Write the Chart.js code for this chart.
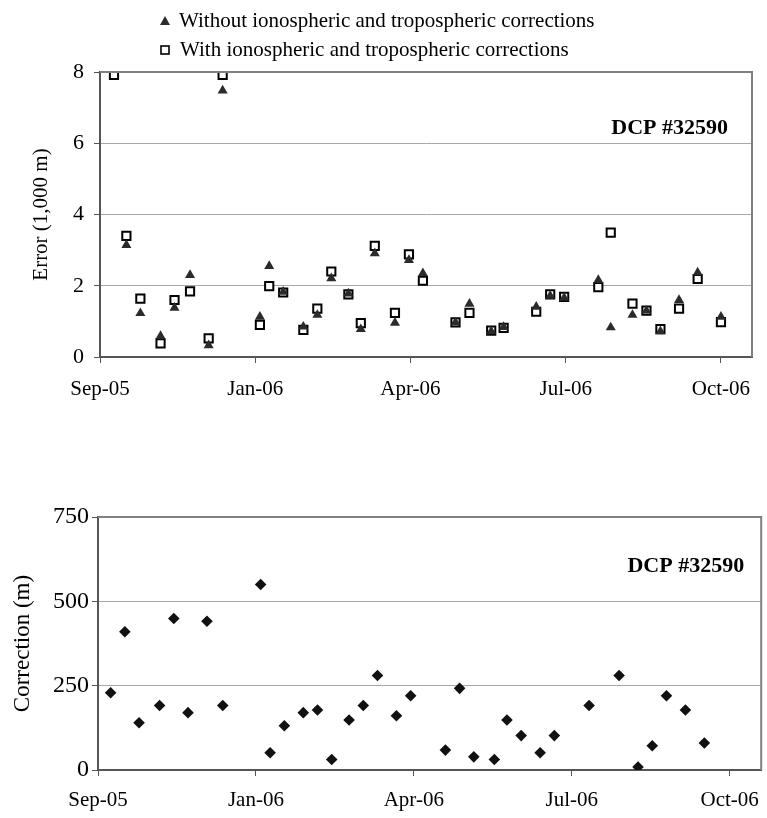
<!DOCTYPE html>
<html>
<head>
<meta charset="utf-8">
<script src="https://cdn.jsdelivr.net/npm/chart.js@4/dist/chart.umd.min.js"></script>
<style>
  html, body { margin: 0; padding: 0; background: #fff; }
  body { width: 767px; height: 818px; position: relative; overflow: hidden; }
  .box { position: absolute; left: 0; width: 767px; }
  #topBox { top: 0; height: 410px; }
  #botBox { top: 460px; height: 358px; }
</style>
</head>
<body>
<div class="box" id="topBox"><canvas id="chart-error"></canvas></div>
<div class="box" id="botBox"><canvas id="chart-correction"></canvas></div>
<script>
// x values are days after the first axis tick (Sep-05); ticks are 100 days apart
const monthTicks = ["Sep-05", "Jan-06", "Apr-06", "Jul-06", "Oct-06"];
const tickDays = [0, 100, 200, 300, 400];

// Top panel: position error in 1,000 m
const errorDays = [9, 17, 26, 39, 48, 58, 70, 79, 103, 109, 118, 131, 140, 149, 160, 168, 177, 190,
                   199, 208, 229, 238, 252, 260, 281, 290, 299, 321, 329, 343, 352, 361, 373, 385, 400];
const withoutCorr = [null, 3.14, 1.23, 0.59, 1.38, 2.30, 0.33, 7.48, 1.13, 2.55, 1.83, 0.85, 1.18, 2.21,
                     1.78, 0.78, 2.91, 0.96, 2.72, 2.35, 0.97, 1.49, 0.72, 0.84, 1.41, 1.72, 1.66, 2.16,
                     0.83, 1.18, 1.30, 0.72, 1.60, 2.37, 1.13];
const withCorr = [7.92, 3.40, 1.64, 0.38, 1.60, 1.84, 0.52, 7.92, 0.90, 1.99, 1.81, 0.76, 1.36, 2.40,
                  1.76, 0.95, 3.12, 1.24, 2.88, 2.14, 0.97, 1.24, 0.74, 0.82, 1.27, 1.76, 1.69, 1.96,
                  3.49, 1.50, 1.30, 0.78, 1.36, 2.19, 0.98];

// Bottom panel: correction size in m
const corrDays = [8, 17, 26, 39, 48, 57, 69, 79, 103, 109, 118, 130, 139, 148, 159, 168, 177, 189,
                  198, 220, 229, 238, 251, 259, 268, 280, 289, 311, 330, 342, 351, 360, 372, 384];
const correction = [229, 410, 140, 191, 449, 170, 441, 191, 550, 51, 131, 170, 178, 31, 148, 191, 280,
                    161, 220, 59, 242, 39, 31, 148, 102, 51, 102, 191, 280, 9, 72, 220, 178, 80];

const SERIF = '"Liberation Serif", "Times New Roman", serif';
const AXIS = "#555555";
const FRAME = "#808080";
const GRID = "#a8a8a8";
const MARK = "#2b2b2b";

Chart.defaults.font.family = SERIF;
Chart.defaults.color = "#000";

const pts = (xs, ys) => xs.map((x, i) => ({ x, y: ys[i] }));

// right-hand and top frame lines + the "DCP" label inside the plot
const framePlugin = {
  id: "frame",
  afterDraw(chart, args, opts) {
    const { ctx, chartArea: a } = chart;
    ctx.save();
    ctx.strokeStyle = FRAME;
    ctx.lineWidth = 2;
    ctx.beginPath();
    ctx.moveTo(a.left, a.top);
    ctx.lineTo(a.right, a.top);
    ctx.lineTo(a.right, a.bottom);
    ctx.stroke();
    ctx.fillStyle = "#000";
    ctx.font = `bold 22px ${SERIF}`;
    ctx.textAlign = "right";
    ctx.textBaseline = "middle";
    ctx.fillText(opts.label, a.right - opts.dx, a.top + opts.dy);
    ctx.restore();
  },
};

// two-row legend above the top panel
const legendPlugin = {
  id: "twoRowLegend",
  afterDraw(chart) {
    const { ctx } = chart;
    ctx.save();
    ctx.fillStyle = MARK;
    ctx.beginPath();
    ctx.moveTo(165, 16);
    ctx.lineTo(170, 25);
    ctx.lineTo(160, 25);
    ctx.closePath();
    ctx.fill();
    ctx.strokeStyle = "#000";
    ctx.lineWidth = 1.6;
    ctx.fillStyle = "#fff";
    ctx.fillRect(161, 46, 8, 8);
    ctx.strokeRect(161, 46, 8, 8);
    ctx.fillStyle = "#000";
    ctx.font = `21px ${SERIF}`;
    ctx.textAlign = "left";
    ctx.textBaseline = "middle";
    ctx.fillText(chart.data.datasets[0].label, 179, 21);
    ctx.fillText(chart.data.datasets[1].label, 180, 50);
    ctx.restore();
  },
};

function xScale(axisHeight, labelPad) {
  return {
    type: "linear", min: 0, max: 420,
    afterBuildTicks: s => { s.ticks = tickDays.map(v => ({ value: v })); },
    afterFit: s => { s.height = axisHeight; s.paddingLeft = 0; s.paddingRight = 0; },
    ticks: { callback: v => monthTicks[tickDays.indexOf(v)], font: { size: 21 }, padding: labelPad,
             maxRotation: 0, autoSkip: false, color: "#000" },
    grid: { drawOnChartArea: false, drawTicks: true, tickLength: 6, color: AXIS, lineWidth: 1 },
    border: { display: true, color: AXIS, width: 2 },
  };
}

function yScale(max, step, width, fontSize, labelPad, title, titleSize, titlePad) {
  return {
    min: 0, max,
    afterFit: s => { s.width = width; },
    ticks: { stepSize: step, font: { size: fontSize }, padding: labelPad, color: "#000" },
    grid: {
      color: c => (c.tick.value === 0 || c.tick.value === max) ? "rgba(0,0,0,0)" : GRID,
      lineWidth: 1, drawTicks: true, tickLength: 6, tickColor: AXIS,
    },
    border: { display: true, color: AXIS, width: 2 },
    title: { display: true, text: title, font: { size: titleSize }, color: "#000",
             padding: { top: titlePad, bottom: 0 } },
  };
}

new Chart(document.getElementById("chart-error"), {
  type: "scatter",
  data: {
    datasets: [
      {
        label: "Without ionospheric and tropospheric corrections",
        data: pts(errorDays, withoutCorr),
        pointStyle: "triangle", pointRadius: 5.8, pointHoverRadius: 5.8,
        backgroundColor: MARK, borderColor: MARK, borderWidth: 0, order: 0,
      },
      {
        label: "With ionospheric and tropospheric corrections",
        data: pts(errorDays, withCorr),
        pointStyle: "rect", pointRadius: 5.8, pointHoverRadius: 5.8,
        backgroundColor: "#fff", borderColor: "#000", borderWidth: 2, order: 1,
      },
    ],
  },
  options: {
    responsive: true, maintainAspectRatio: false, animation: false,
    layout: { padding: { left: 0, right: 15, top: 72, bottom: 0 } },
    plugins: { legend: { display: false }, tooltip: { enabled: false },
               frame: { label: "DCP #32590", dx: 24, dy: 56 } },
    scales: {
      x: xScale(53, 14),
      y: yScale(8, 2, 100, 22, 10, "Error (1,000 m)", 21, 29),
    },
  },
  plugins: [framePlugin, legendPlugin],
});

new Chart(document.getElementById("chart-correction"), {
  type: "scatter",
  data: {
    datasets: [{
      label: "Correction",
      data: pts(corrDays, correction),
      pointStyle: "rectRot", pointRadius: 5.8, pointHoverRadius: 5.8,
      backgroundColor: "#111", borderColor: "#111", borderWidth: 0,
    }],
  },
  options: {
    responsive: true, maintainAspectRatio: false, animation: false,
    layout: { padding: { left: 0, right: 1, top: 57, bottom: 0 } },
    plugins: { legend: { display: false }, tooltip: { enabled: false },
               frame: { label: "DCP #32590", dx: 17, dy: 49 } },
    scales: {
      x: xScale(48, 12),
      y: yScale(750, 250, 98, 24, 3, "Correction (m)", 23, 9),
    },
  },
  plugins: [framePlugin],
});
</script>
</body>
</html>
